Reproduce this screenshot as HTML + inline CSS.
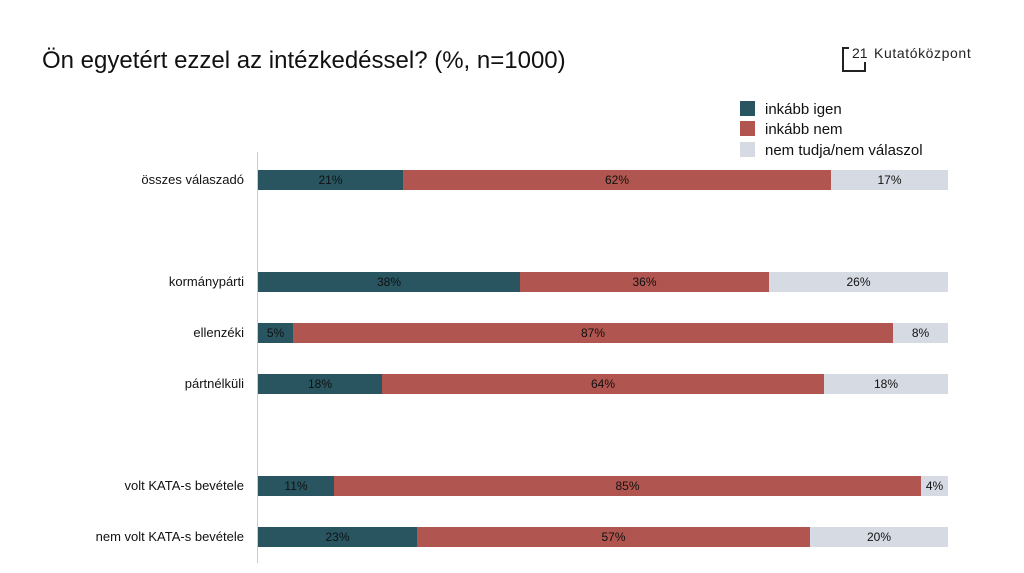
<!DOCTYPE html>
<html><head><meta charset="utf-8"><style>
body{margin:0;width:1024px;height:573px;background:#fff;font-family:"Liberation Sans",sans-serif;position:relative;overflow:hidden}
.t{position:absolute;left:42px;top:47px;font-size:24px;color:#111}
.ax{position:absolute;left:257px;top:152px;width:1px;height:411px;background:#ccc}
.lab{position:absolute;right:780px;font-size:13px;color:#111;text-align:right;white-space:nowrap}
.bar{position:absolute;left:258px;height:20px;display:flex}
.bar div{height:20px;line-height:20px;text-align:center;font-size:12px;color:#111}
.a{background:#285560}.b{background:#b0554f}.c{background:#d6dae2}
.lg{position:absolute;left:740px;font-size:15px;color:#111}
.lg span{display:inline-block;width:15px;height:15px;vertical-align:-2px;margin-right:10px}
</style></head><body>
<div class="t">Ön egyetért ezzel az intézkedéssel? (%, n=1000)</div>
<div style="position:absolute;left:842px;top:47px;width:1.5px;height:24px;background:#222"></div>
<div style="position:absolute;left:842px;top:47px;width:7px;height:1.5px;background:#222"></div>
<div style="position:absolute;left:842px;top:70px;width:24px;height:1.5px;background:#222"></div>
<div style="position:absolute;left:864px;top:62px;width:1.5px;height:9px;background:#222"></div>
<div style="position:absolute;left:852px;top:45px;font-size:14px;color:#222">21</div>
<div style="position:absolute;left:874px;top:45px;font-size:14px;color:#222;letter-spacing:0.6px">Kutatóközpont</div>
<div class="lg" style="top:101px"><span class="a"></span>inkább igen</div>
<div class="lg" style="top:121px"><span class="b"></span>inkább nem</div>
<div class="lg" style="top:142px"><span class="c"></span>nem tudja/nem válaszol</div>
<div class="ax"></div>
<div class="lab" style="top:172px">összes válaszadó</div>
<div class="bar" style="top:170px"><div class="a" style="width:145px">21%</div><div class="b" style="width:428px">62%</div><div class="c" style="width:117px">17%</div></div>
<div class="lab" style="top:274px">kormánypárti</div>
<div class="bar" style="top:272px"><div class="a" style="width:262px">38%</div><div class="b" style="width:249px">36%</div><div class="c" style="width:179px">26%</div></div>
<div class="lab" style="top:325px">ellenzéki</div>
<div class="bar" style="top:323px"><div class="a" style="width:35px">5%</div><div class="b" style="width:600px">87%</div><div class="c" style="width:55px">8%</div></div>
<div class="lab" style="top:376px">pártnélküli</div>
<div class="bar" style="top:374px"><div class="a" style="width:124px">18%</div><div class="b" style="width:442px">64%</div><div class="c" style="width:124px">18%</div></div>
<div class="lab" style="top:478px">volt KATA-s bevétele</div>
<div class="bar" style="top:476px"><div class="a" style="width:76px">11%</div><div class="b" style="width:587px">85%</div><div class="c" style="width:27px">4%</div></div>
<div class="lab" style="top:529px">nem volt KATA-s bevétele</div>
<div class="bar" style="top:527px"><div class="a" style="width:159px">23%</div><div class="b" style="width:393px">57%</div><div class="c" style="width:138px">20%</div></div>
</body></html>
